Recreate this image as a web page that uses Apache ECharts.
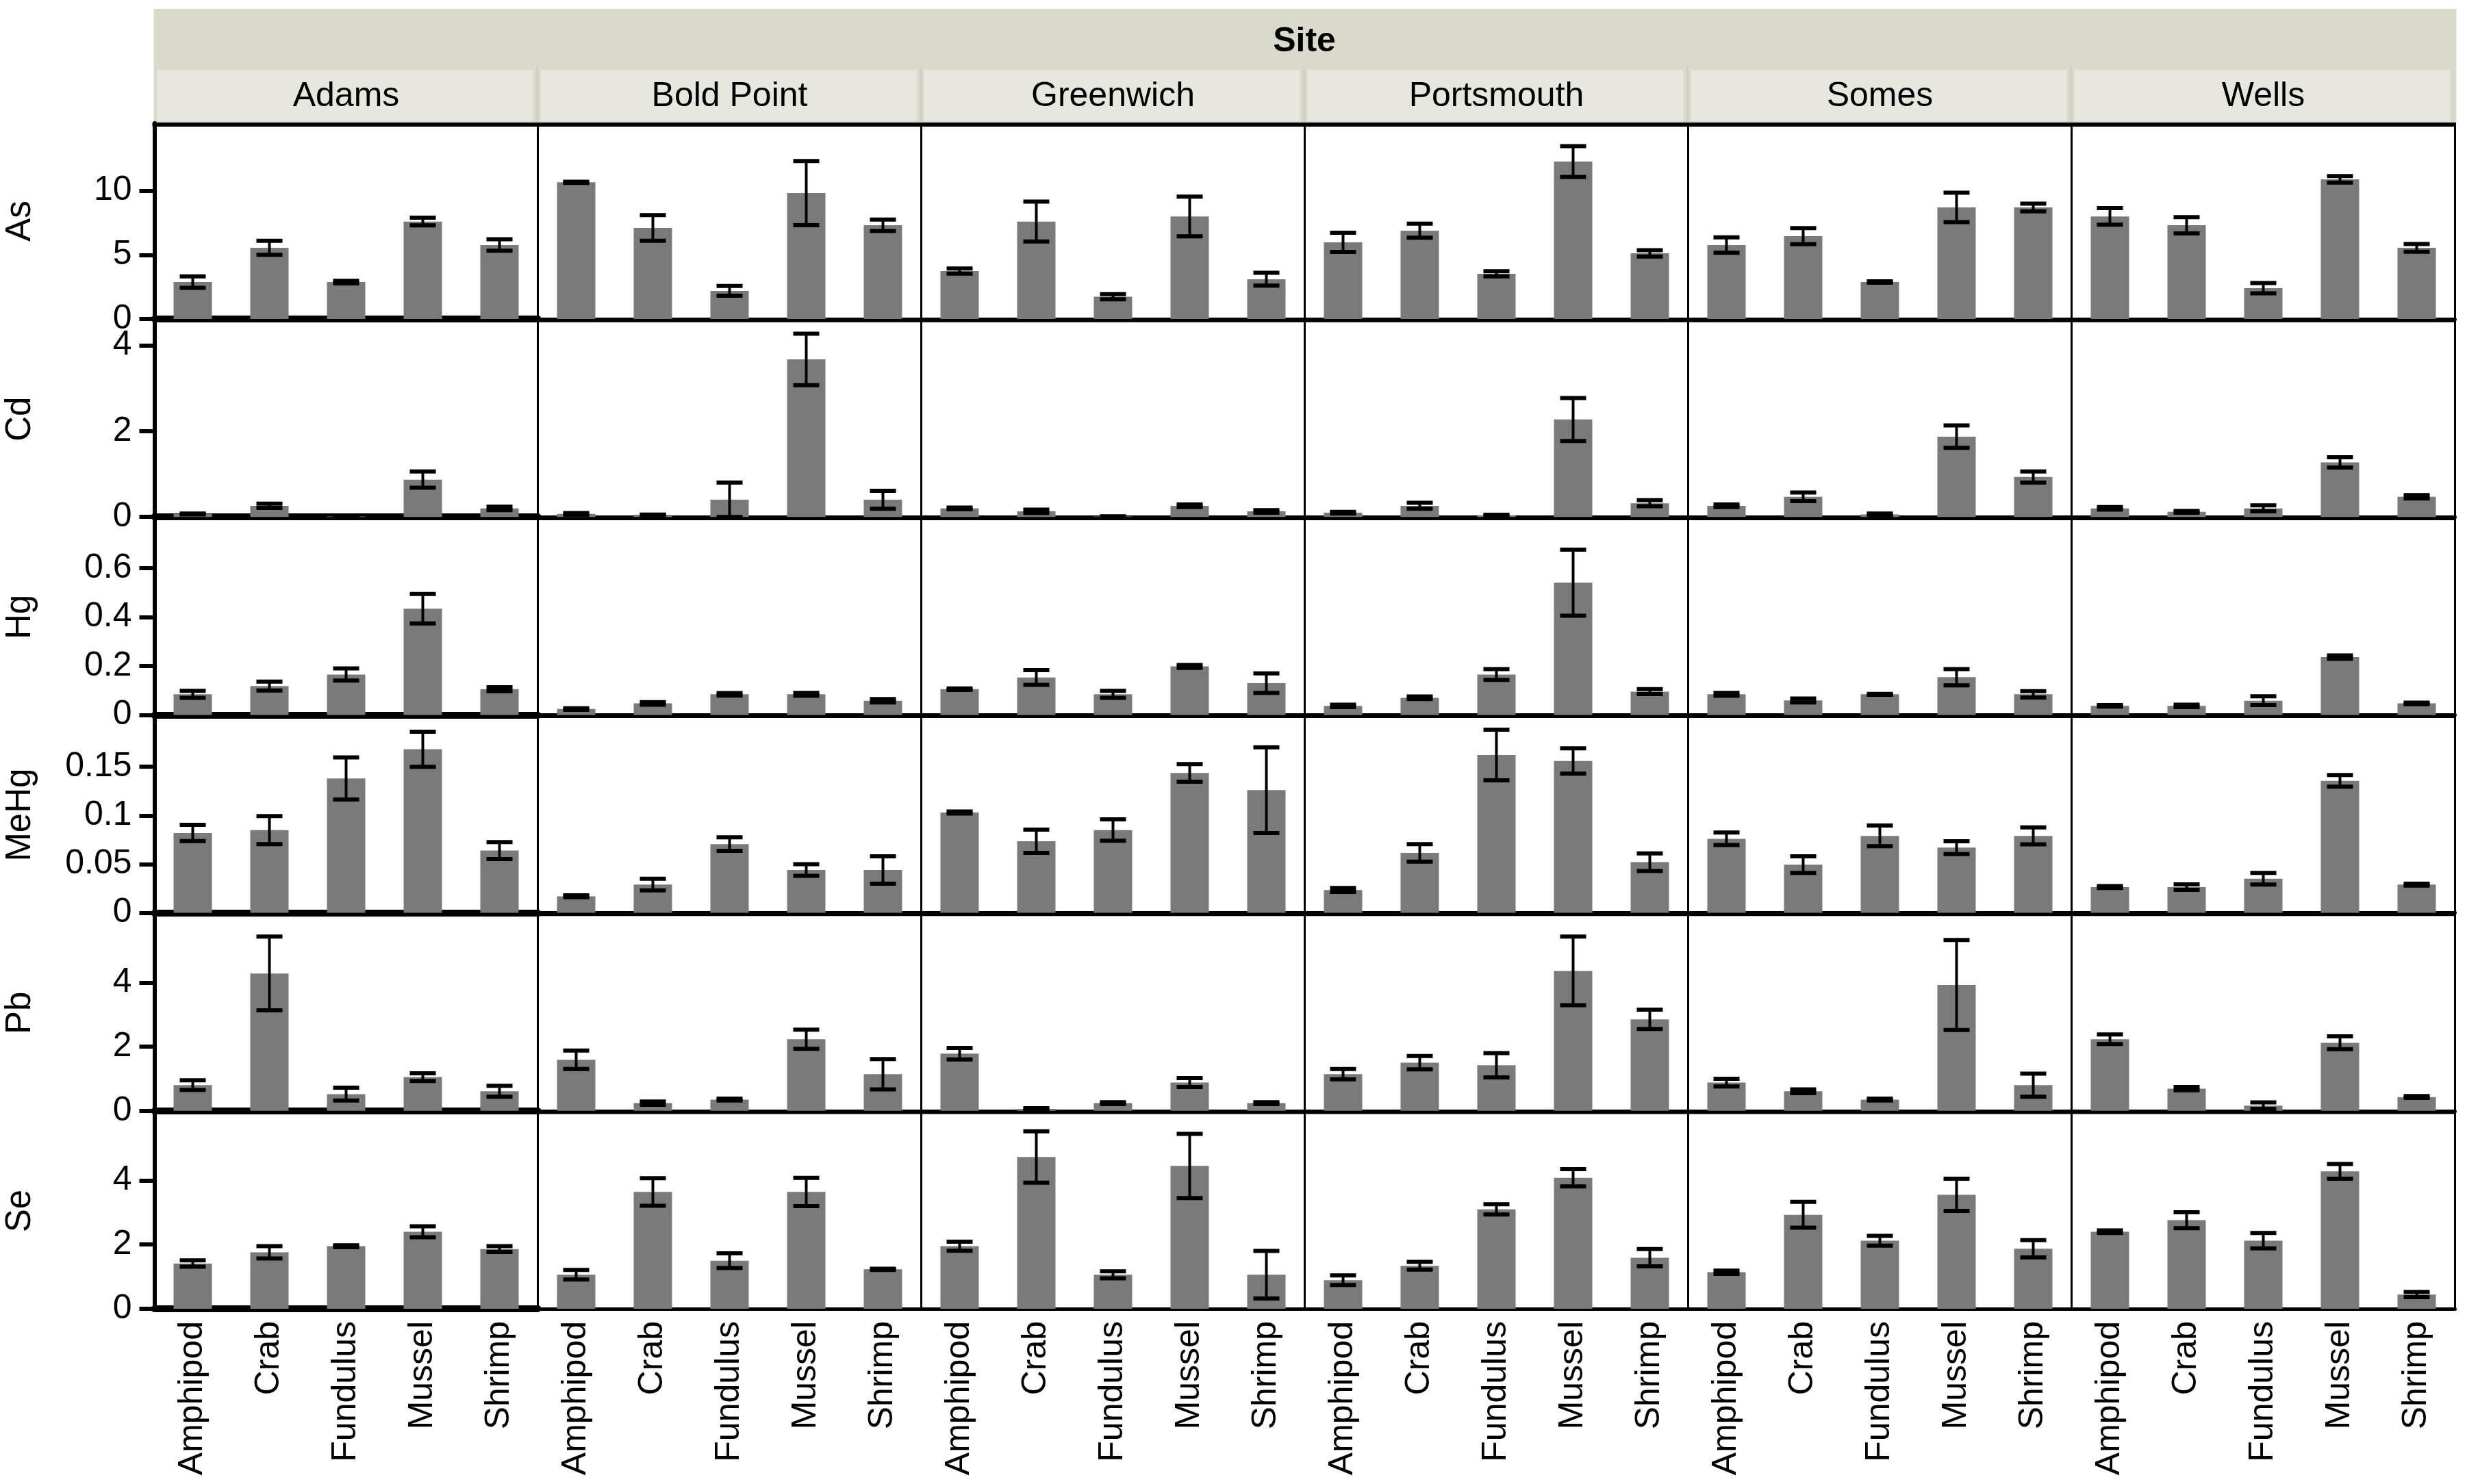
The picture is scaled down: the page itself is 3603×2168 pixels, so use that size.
<!DOCTYPE html>
<html>
<head>
<meta charset="utf-8">
<script src="https://cdn.jsdelivr.net/npm/echarts@6/dist/echarts.min.js"></script>
<style>
  html, body { margin: 0; padding: 0; background: #ffffff; }
  #chart { width: 3603px; height: 2168px; }
</style>
</head>
<body>
<div id="chart"></div>
<script>
// ---------------- DATA ----------------
const sites = ['Adams', 'Bold Point', 'Greenwich', 'Portsmouth', 'Somes', 'Wells'];
const species = ['Amphipod', 'Crab', 'Fundulus', 'Mussel', 'Shrimp'];
const elements = ['As', 'Cd', 'Hg', 'MeHg', 'Pb', 'Se'];
const yMax = [15.27, 4.56, 0.80, 0.201, 6.10, 6.10];
const yTicks = [[0, 5, 10], [0, 2, 4], [0, 0.2, 0.4, 0.6], [0, 0.05, 0.1, 0.15], [0, 2, 4], [0, 2, 4]];

// rows: sites (Adams..Wells), columns: species (Amphipod..Shrimp)
const asMean = [
  [2.88, 5.55, 2.88, 7.6, 5.77],
  [10.66, 7.1, 2.19, 9.82, 7.31],
  [3.74, 7.6, 1.74, 8.0, 3.1],
  [5.98, 6.89, 3.52, 12.28, 5.12],
  [5.77, 6.46, 2.88, 8.7, 8.7],
  [8.0, 7.31, 2.4, 10.89, 5.55]
];
const asErr = [
  [0.45, 0.55, 0.1, 0.3, 0.45],
  [0.05, 1.0, 0.38, 2.5, 0.45],
  [0.2, 1.55, 0.2, 1.55, 0.5],
  [0.75, 0.55, 0.2, 1.2, 0.25],
  [0.6, 0.63, 0.05, 1.15, 0.3],
  [0.65, 0.63, 0.4, 0.25, 0.3]
];
const cdMean = [
  [0.07, 0.26, 0.01, 0.87, 0.2],
  [0.07, 0.05, 0.4, 3.67, 0.4],
  [0.2, 0.13, 0.01, 0.26, 0.13],
  [0.1, 0.26, 0.04, 2.27, 0.32],
  [0.26, 0.47, 0.06, 1.87, 0.93],
  [0.2, 0.12, 0.2, 1.27, 0.47]
];
const cdErr = [
  [0.01, 0.05, 0.0, 0.19, 0.04],
  [0.02, 0.005, 0.4, 0.6, 0.21],
  [0.02, 0.04, 0.0, 0.03, 0.03],
  [0.02, 0.07, 0.01, 0.5, 0.07],
  [0.03, 0.1, 0.02, 0.26, 0.13],
  [0.03, 0.02, 0.07, 0.12, 0.04]
];
const hgMean = [
  [0.084, 0.118, 0.165, 0.434, 0.105],
  [0.024, 0.047, 0.084, 0.084, 0.058],
  [0.105, 0.153, 0.084, 0.198, 0.13],
  [0.037, 0.07, 0.165, 0.54, 0.095],
  [0.084, 0.059, 0.084, 0.154, 0.084],
  [0.037, 0.037, 0.058, 0.236, 0.047]
];
const hgErr = [
  [0.014, 0.018, 0.025, 0.06, 0.008],
  [0.003, 0.005, 0.005, 0.006, 0.007],
  [0.003, 0.03, 0.014, 0.006, 0.04],
  [0.005, 0.005, 0.022, 0.135, 0.01],
  [0.006, 0.008, 0.002, 0.033, 0.013],
  [0.003, 0.005, 0.018, 0.007, 0.003]
];
const mehgMean = [
  [0.082, 0.085, 0.138, 0.168, 0.064],
  [0.017, 0.029, 0.0706, 0.044, 0.044],
  [0.103, 0.0735, 0.085, 0.1437, 0.126],
  [0.0235, 0.0616, 0.162, 0.156, 0.052],
  [0.076, 0.0495, 0.079, 0.067, 0.079],
  [0.0265, 0.0265, 0.035, 0.1355, 0.029]
];
const mehgErr = [
  [0.0083, 0.0144, 0.0216, 0.018, 0.0087],
  [0.001, 0.006, 0.007, 0.006, 0.014],
  [0.001, 0.012, 0.011, 0.009, 0.044],
  [0.002, 0.009, 0.026, 0.013, 0.009],
  [0.0064, 0.0085, 0.0106, 0.0066, 0.0087],
  [0.001, 0.0028, 0.006, 0.006, 0.001]
];
const pbMean = [
  [0.8, 4.28, 0.52, 1.05, 0.61],
  [1.59, 0.24, 0.35, 2.23, 1.14],
  [1.78, 0.06, 0.24, 0.88, 0.24],
  [1.14, 1.5, 1.42, 4.36, 2.85],
  [0.88, 0.61, 0.35, 3.92, 0.8],
  [2.23, 0.69, 0.16, 2.12, 0.43]
];
const pbErr = [
  [0.15, 1.15, 0.2, 0.12, 0.17],
  [0.29, 0.05, 0.03, 0.3, 0.47],
  [0.18, 0.02, 0.03, 0.14, 0.03],
  [0.16, 0.21, 0.38, 1.07, 0.3],
  [0.12, 0.06, 0.03, 1.4, 0.36],
  [0.15, 0.05, 0.1, 0.2, 0.03]
];
const seMean = [
  [1.41, 1.76, 1.95, 2.4, 1.86],
  [1.06, 3.64, 1.5, 3.64, 1.23],
  [1.95, 4.73, 1.06, 4.45, 1.06],
  [0.89, 1.34, 3.1, 4.08, 1.59],
  [1.14, 2.93, 2.12, 3.55, 1.87],
  [2.4, 2.76, 2.12, 4.28, 0.44]
];
const seErr = [
  [0.1, 0.19, 0.03, 0.17, 0.09],
  [0.15, 0.43, 0.23, 0.44, 0.02],
  [0.14, 0.8, 0.11, 1.0, 0.74],
  [0.15, 0.12, 0.16, 0.27, 0.27],
  [0.05, 0.4, 0.15, 0.5, 0.27],
  [0.04, 0.25, 0.24, 0.23, 0.08]
];
const means = [asMean, cdMean, hgMean, mehgMean, pbMean, seMean];
const errs = [asErr, cdErr, hgErr, mehgErr, pbErr, seErr];

// ---------------- LAYOUT ----------------
const FONT = 'Liberation Sans, Arial, sans-serif';
const colLeft0 = 225.5, colW = 560;
const baseline0 = 466, rowStep = 289.2, rowH = 286;
const rightEdge = colLeft0 + colW * 6;

const grids = [], xAxes = [], yAxes = [], series = [];
let idx = 0;
for (let r = 0; r < elements.length; r++) {
  for (let c = 0; c < sites.length; c++) {
    const base = baseline0 + r * rowStep;
    grids.push({
      left: colLeft0 + c * colW,
      top: base - rowH,
      width: colW,
      height: rowH,
      show: true,
      borderColor: '#000',
      borderWidth: 3,
      backgroundColor: '#fff'
    });
    const bottomRow = r === elements.length - 1;
    xAxes.push({
      type: 'category',
      gridIndex: idx,
      data: species,
      offset: c === 0 ? 5 : 2.5,
      axisLine: { show: true, lineStyle: { color: '#000', width: c === 0 ? 10 : 5 } },
      axisTick: { show: false },
      axisLabel: {
        show: bottomRow,
        rotate: 90,
        margin: c === 0 ? 13 : 15.5,
        fontFamily: FONT,
        fontSize: 50,
        color: '#000'
      },
      splitLine: { show: false }
    });
    yAxes.push({
      type: 'value',
      gridIndex: idx,
      min: 0,
      max: yMax[r],
      name: c === 0 ? elements[r] : '',
      nameLocation: 'middle',
      nameRotate: 90,
      nameGap: 170,
      nameTextStyle: { fontFamily: FONT, fontSize: 51, color: '#000' },
      axisLine: { show: c === 0, lineStyle: { color: '#000', width: 6 } },
      axisTick: {
        show: c === 0,
        inside: false,
        length: 22,
        lineStyle: { color: '#000', width: 6 },
        customValues: yTicks[r]
      },
      axisLabel: {
        show: c === 0,
        margin: 33,
        fontFamily: FONT,
        fontSize: 50,
        color: '#000',
        customValues: yTicks[r]
      },
      splitLine: { show: false }
    });
    series.push({
      type: 'bar',
      xAxisIndex: idx,
      yAxisIndex: idx,
      data: means[r][c],
      barWidth: '50%',
      itemStyle: { color: '#7a7a7a' },
      silent: true,
      z: 2
    });
    series.push({
      type: 'custom',
      xAxisIndex: idx,
      yAxisIndex: idx,
      data: means[r][c].map((m, k) => [k, m, errs[r][c][k]]),
      encode: { x: 0, y: 1 },
      z: 3,
      silent: true,
      renderItem: function (params, api) {
        const x = api.value(0), m = api.value(1), e = api.value(2);
        const hi = api.coord([x, m + e]);
        const lo = api.coord([x, m - e]);
        const hw = 19;
        return {
          type: 'group',
          children: [
            { type: 'line', shape: { x1: hi[0], y1: hi[1], x2: lo[0], y2: lo[1] }, style: { stroke: '#000', lineWidth: 4 } },
            { type: 'line', shape: { x1: hi[0] - hw, y1: hi[1], x2: hi[0] + hw, y2: hi[1] }, style: { stroke: '#000', lineWidth: 6 } },
            { type: 'line', shape: { x1: lo[0] - hw, y1: lo[1], x2: lo[0] + hw, y2: lo[1] }, style: { stroke: '#000', lineWidth: 6 } }
          ]
        };
      }
    });
    idx++;
  }
}

// header graphics (facet strips)
const graphic = [];
graphic.push({
  type: 'rect', shape: { x: 224.5, y: 13, width: rightEdge - 224.5 + 2, height: 167 },
  style: { fill: '#dbd9cb' }, z: 0
});
graphic.push({
  type: 'text', x: (224.5 + rightEdge) / 2, y: 61,
  style: { text: 'Site', fontFamily: FONT, fontWeight: 'bold', fontSize: 50, fill: '#000', align: 'center', verticalAlign: 'middle' },
  z: 2
});
for (let c = 0; c < sites.length; c++) {
  const x0 = colLeft0 + c * colW;
  graphic.push({
    type: 'rect', shape: { x: x0 + 4, y: 102, width: colW - 11, height: 75 },
    style: { fill: '#e7e7df' }, z: 1
  });
  if (c > 0) {
    graphic.push({
      type: 'line', shape: { x1: x0 - 1, y1: 98, x2: x0 - 1, y2: 180 },
      style: { stroke: '#cfcfc6', lineWidth: 3 }, z: 1
    });
  }
  graphic.push({
    type: 'text', x: x0 + colW / 2, y: 141,
    style: { text: sites[c], fontFamily: FONT, fontSize: 50, fill: '#000', align: 'center', verticalAlign: 'middle' },
    z: 2
  });
}
// thick top border of the first panel row
graphic.push({
  type: 'line', shape: { x1: colLeft0 - 3, y1: 182, x2: rightEdge + 1.5, y2: 182 },
  style: { stroke: '#000', lineWidth: 6 }, z: 100
});

const chart = echarts.init(document.getElementById('chart'), null, { renderer: 'canvas', width: 3603, height: 2168 });
chart.setOption({
  backgroundColor: '#ffffff',
  animation: false,
  textStyle: { fontFamily: FONT },
  grid: grids,
  xAxis: xAxes,
  yAxis: yAxes,
  series: series,
  graphic: graphic
});
</script>
</body>
</html>
